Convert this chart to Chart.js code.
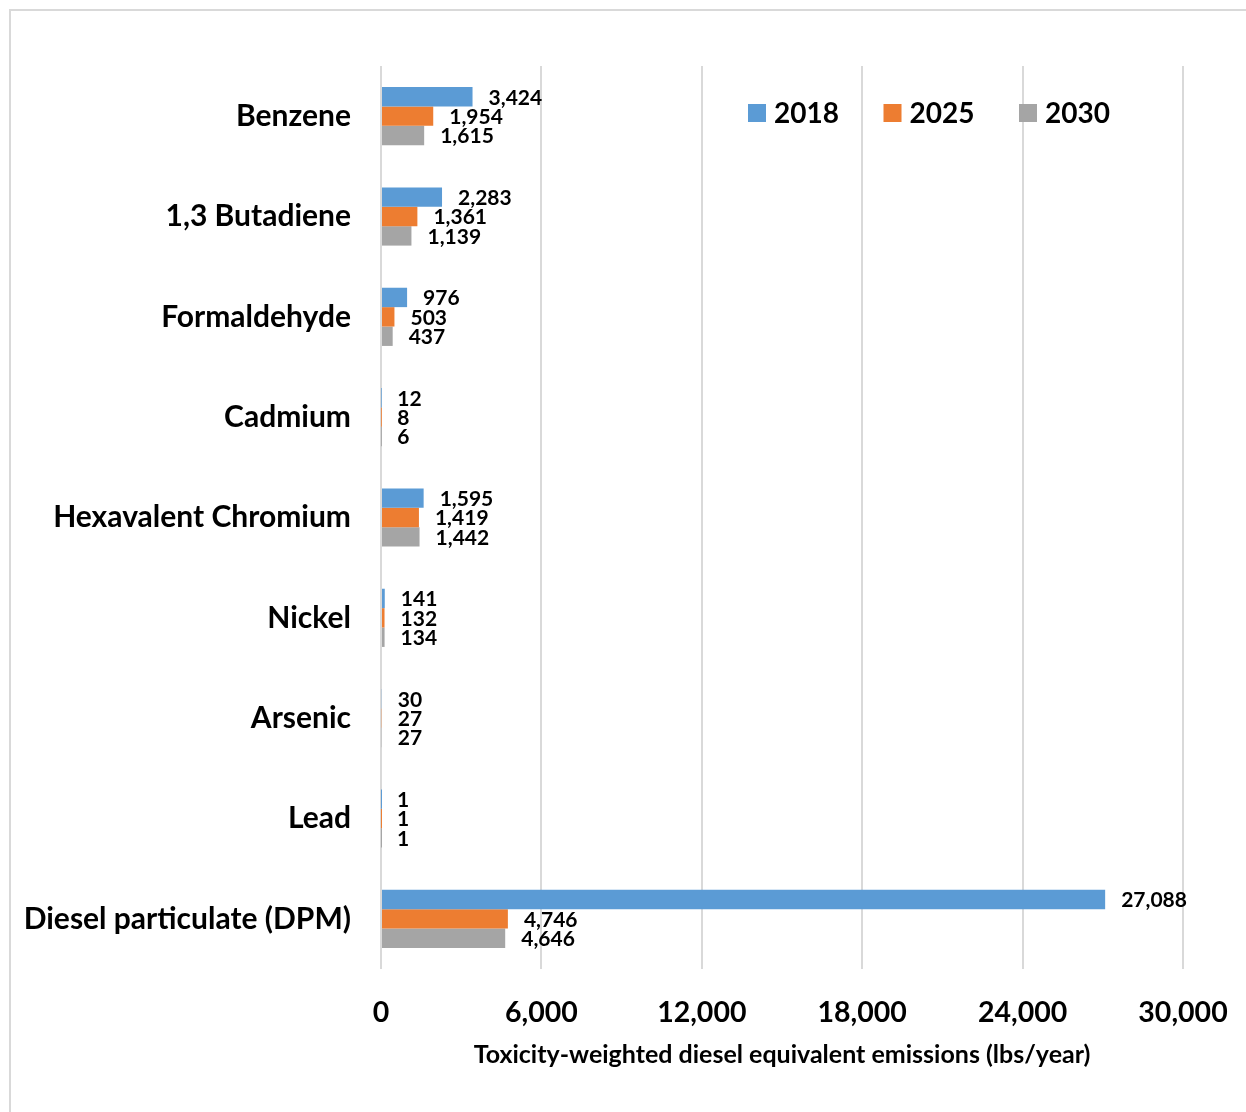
<!DOCTYPE html>
<html>
<head>
<meta charset="utf-8">
<script src="https://cdn.jsdelivr.net/npm/chart.js@4/dist/chart.umd.min.js"></script>
<style>
  html, body { margin: 0; padding: 0; background: #fff; overflow: hidden; }
  #frame { position: absolute; left: 9px; top: 9px; width: 1260px; height: 1130px; border: 2px solid #d9d9d9; box-sizing: border-box; }
  #wrap { position: absolute; left: 0; top: 0; width: 1246px; height: 1112px; }
</style>
</head>
<body>
<div id="frame"></div>
<div id="wrap"><canvas id="chart"></canvas></div>
<script>
  // Pollutant categories and emissions by year
  const categories = ['Benzene', '1,3 Butadiene', 'Formaldehyde', 'Cadmium', 'Hexavalent Chromium',
    'Nickel', 'Arsenic', 'Lead', 'Diesel particulate (DPM)'];
  const values2018 = [3424, 2283, 976, 12, 1595, 141, 30, 1, 27088];
  const values2025 = [1954, 1361, 503, 8, 1419, 132, 27, 1, 4746];
  const values2030 = [1615, 1139, 437, 6, 1442, 134, 27, 1, 4646];
  const xTicks = [0, 6000, 12000, 18000, 24000, 30000];

  const FONT = 'Lato, "Open Sans", sans-serif';

  // Draws the value next to the end of each bar
  const barLabels = {
    id: 'barLabels',
    afterDatasetsDraw(chart) {
      const ctx = chart.ctx;
      ctx.save();
      ctx.font = 'bold 21px ' + FONT;
      ctx.fillStyle = '#000';
      ctx.textAlign = 'left';
      ctx.textBaseline = 'middle';
      chart.data.datasets.forEach((ds, i) => {
        chart.getDatasetMeta(i).data.forEach((bar, j) => {
          ctx.fillText(ds.data[j].toLocaleString('en-US'), bar.x + 16, bar.y + 1);
        });
      });
      ctx.restore();
    }
  };

  // Legend inside the plot, top right
  const insideLegend = {
    id: 'insideLegend',
    afterDraw(chart) {
      const ctx = chart.ctx;
      ctx.save();
      ctx.font = 'bold 28px ' + FONT;
      ctx.textBaseline = 'middle';
      ctx.textAlign = 'left';
      let x = 748;
      const y = 113;
      chart.data.datasets.forEach(ds => {
        ctx.fillStyle = ds.backgroundColor;
        ctx.fillRect(x, y - 9, 18, 18);
        ctx.fillStyle = '#000';
        ctx.fillText(ds.label, x + 26, y + 1);
        x += 135.5;
      });
      ctx.restore();
    }
  };

  new Chart(document.getElementById('chart'), {
    type: 'bar',
    data: {
      labels: categories,
      datasets: [
        { label: '2018', data: values2018, backgroundColor: '#5B9BD5' },
        { label: '2025', data: values2025, backgroundColor: '#ED7D31' },
        { label: '2030', data: values2030, backgroundColor: '#A5A5A5' }
      ]
    },
    options: {
      indexAxis: 'y',
      responsive: true,
      maintainAspectRatio: false,
      animation: false,
      datasets: { bar: { barPercentage: 1, categoryPercentage: 0.58 } },
      layout: { padding: { top: 66, right: 63, left: 0, bottom: 0 } },
      plugins: { legend: { display: false }, tooltip: { enabled: false } },
      scales: {
        x: {
          min: 0,
          max: 30000,
          afterBuildTicks(scale) { scale.ticks = xTicks.map(v => ({ value: v })); },
          afterFit(scale) {
            scale.height = 143;
            scale.paddingLeft = 0;
            scale.paddingRight = 0;
          },
          grid: { color: '#d9d9d9', lineWidth: 2, drawTicks: false },
          border: { display: false },
          ticks: {
            color: '#000',
            font: { family: FONT, size: 28.5, weight: 'bold' },
            padding: 27,
            callback: v => v.toLocaleString('en-US')
          },
          title: {
            display: true,
            text: 'Toxicity-weighted diesel equivalent emissions (lbs/year)',
            color: '#000',
            font: { family: FONT, size: 25, weight: 'bold' },
            padding: { top: 0, bottom: 42 }
          }
        },
        y: {
          afterFit(scale) { scale.width = 381; },
          grid: { display: false, drawTicks: false },
          border: { display: false },
          ticks: {
            color: '#000',
            font: { family: FONT, size: 30, weight: 'bold' },
            padding: 30
          }
        }
      }
    },
    plugins: [barLabels, insideLegend]
  });
</script>
</body>
</html>
